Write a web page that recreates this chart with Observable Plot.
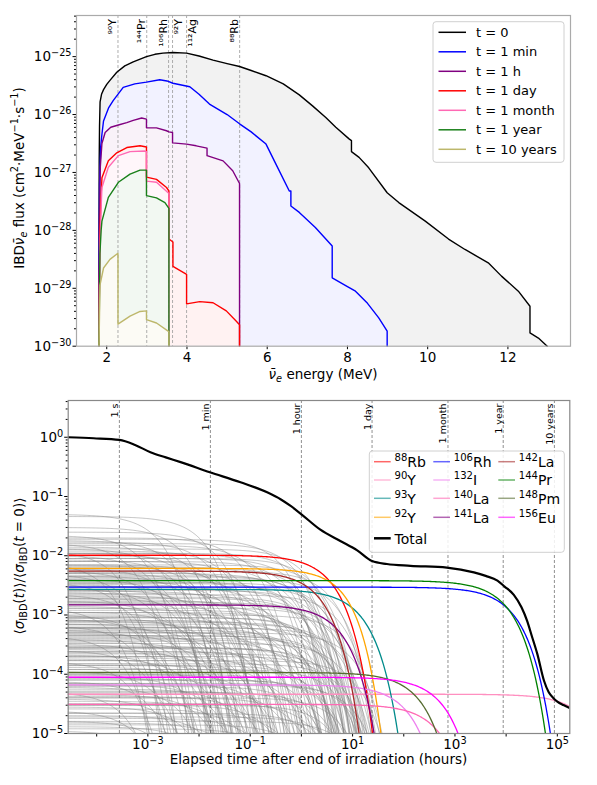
<!DOCTYPE html>
<html><head><meta charset="utf-8">
<script src="https://cdn.jsdelivr.net/npm/d3@7"></script>
<script src="https://cdn.jsdelivr.net/npm/@observablehq/plot@0.6"></script>
<style>
body{margin:0;background:#fff;font-family:"DejaVu Sans",sans-serif;}
svg{display:block;}
</style>
</head><body>
<div id="top"></div>
<div id="bottom"></div>
<script>
// ================= DATA: top panel (energy MeV, log10 flux) =================
const spec_t0 = [[1.806,-30],[1.808,-28],[1.812,-26.8],[1.82,-26.2],[1.834,-25.78],[1.87,-25.65],[1.92,-25.57],[2.0,-25.48],[2.08,-25.41],[2.25,-25.27],[2.45,-25.16],[2.66,-25.09],[2.99,-25.0],[3.2,-24.96],[3.4,-24.94],[3.65,-24.93],[3.99,-24.94],[4.3,-24.99],[4.65,-25.06],[5.0,-25.12],[5.31,-25.17],[5.6,-25.24],[5.97,-25.33],[6.4,-25.47],[6.8,-25.66],[7.13,-25.85],[7.46,-26.05],[7.71,-26.22],[8.04,-26.42],[8.10,-26.45],[8.10,-26.64],[8.29,-26.74],[8.53,-26.92],[8.99,-27.35],[9.28,-27.52],[9.94,-27.84],[10.52,-28.15],[10.93,-28.33],[11.51,-28.56],[11.84,-28.79],[12.26,-29.05],[12.55,-29.31],[12.55,-29.77],[12.76,-29.86],[12.98,-30]];
const spec_1min = [[1.806,-30],[1.81,-28.5],[1.82,-27.2],[1.85,-26.55],[1.88,-26.34],[1.92,-26.11],[2.05,-25.88],[2.16,-25.76],[2.41,-25.53],[2.7,-25.47],[2.99,-25.44],[3.32,-25.40],[3.5,-25.42],[3.65,-25.46],[4.07,-25.52],[4.3,-25.65],[4.56,-25.82],[5.0,-26.0],[5.31,-26.16],[5.6,-26.3],[5.97,-26.51],[6.22,-26.86],[6.55,-27.32],[6.59,-27.32],[6.59,-27.58],[6.80,-27.69],[7.2,-27.95],[7.62,-28.27],[7.62,-28.82],[8.0,-28.97],[8.20,-29.05],[8.5,-29.26],[8.78,-29.51],[8.99,-29.74],[8.99,-30]];
const spec_1h = [[1.806,-30],[1.81,-29],[1.82,-27.8],[1.84,-26.9],[1.88,-26.5],[1.96,-26.31],[2.1,-26.22],[2.29,-26.18],[2.5,-26.14],[2.66,-26.10],[2.87,-26.06],[2.99,-26.08],[2.99,-26.23],[3.24,-26.23],[3.49,-26.28],[3.55,-26.30],[3.64,-26.31],[3.64,-26.49],[3.99,-26.51],[4.23,-26.54],[4.5,-26.58],[4.5,-26.71],[4.9,-26.80],[5.14,-26.97],[5.31,-27.19],[5.31,-30]];
const spec_1day = [[1.806,-30],[1.81,-29.5],[1.83,-28],[1.86,-27.4],[1.88,-27.09],[2.04,-26.80],[2.25,-26.66],[2.5,-26.57],[2.83,-26.54],[2.99,-26.56],[2.99,-27.08],[3.24,-27.12],[3.49,-27.26],[3.55,-27.32],[3.55,-28.15],[3.65,-28.2],[3.65,-28.62],[3.99,-28.76],[3.99,-29.27],[4.32,-29.23],[4.65,-29.25],[4.98,-29.39],[5.23,-29.57],[5.31,-29.63],[5.31,-30]];
const spec_1month = [[1.806,-30],[1.81,-29.5],[1.83,-28.3],[1.86,-27.6],[1.88,-27.26],[2.04,-26.91],[2.29,-26.71],[2.58,-26.64],[2.95,-26.63],[2.99,-26.64],[2.99,-27.15],[3.24,-27.17],[3.53,-27.35],[3.55,-27.36],[3.55,-30]];
const spec_1year = [[1.806,-30],[1.81,-29.7],[1.83,-28.4],[1.86,-28.0],[1.88,-27.84],[2.04,-27.43],[2.29,-27.17],[2.58,-27.03],[2.83,-26.96],[2.99,-26.96],[2.99,-27.40],[3.24,-27.44],[3.45,-27.52],[3.55,-27.62],[3.55,-30]];
const spec_10years = [[1.806,-30],[1.81,-29.9],[1.83,-28.95],[1.92,-28.65],[2.08,-28.50],[2.27,-28.40],[2.28,-28.40],[2.28,-29.62],[2.58,-29.48],[2.83,-29.40],[2.99,-29.39],[2.99,-29.54],[3.24,-29.60],[3.53,-29.74],[3.55,-29.75],[3.55,-30]];

const specLabels = ["t = 0","t = 1 min","t = 1 h","t = 1 day","t = 1 month","t = 1 year","t = 10 years"];
const specColors = ["#000000","#0000ff","#800080","#ff0000","#ff69b4","#1a801a","#bdb76b"];
const specFills  = ["#f2f2f2","#f2f2ff","#f9f2f9","#fff2f2","#fff6fa","#f2f8f2","#fcfbf5"];
const specPoints = [spec_t0, spec_1min, spec_1h, spec_1day, spec_1month, spec_1year, spec_10years];

const endpointE = [2.28, 2.997, 3.541, 3.64, 3.99, 5.313];
const endpointLabel = ["⁹⁰Y","¹⁴⁴Pr","¹⁰⁶Rh","⁹²Y","¹¹²Ag","⁸⁸Rb"];
const endpointRightSide = [false, false, false, true, true, false];

// ================= DATA: bottom panel =================
// named isotopes: own amplitude at t=0, own half-life (h), parent-fed amplitude, parent half-life (h)
const isoMass = [88,90,93,92,106,132,140,141,142,144,148,156];
const isoSym  = ["Rb","Y","Y","Y","Rh","I","La","La","La","Pr","Pm","Eu"];
const isoAmp  = [0.0102,4.6e-5,0.0027,0.0061,0.00295,6.6e-5,3.1e-5,0.00148,0.0055,0.0038,1.07e-4,8.9e-5];
const isoHalfLifeH = [2.45,252460,9.5,3.54,8923,76.9,306,3.65,1.47,6838,128.9,364.6];
const isoParentAmp = [0,0,0,0.0019,0,0,0,0,0,0,0,0];
const isoParentHalfLifeH = [1,1,1,2.61,1,1,1,1,1,1,1,1];
const isoColor = ["#ff0000","#ff8fc0","#008b8b","#ffa500","#0000ff","#ee82ee","#ff69b4","#800080","#a52a2a","#008000","#556b2f","#ff00ff"];

// other fission products (grey): [amplitude, half-life in seconds]
const greyIsotopes = [
 [0.050,4],[0.046,30],[0.030,12],[0.025,60],[0.022,2],[0.020,150],[0.018,8],[0.017,40],[0.016,1.2],[0.015,300],
 [0.014,20],[0.013,5],[0.012,90],[0.012,0.6],[0.011,600],[0.011,15],[0.010,3],[0.010,45],
 [0.019,1000],[0.016,1800],[0.013,3000],[0.011,2400],[0.009,4200],[0.008,1300],[0.007,5500],[0.0062,2600],
 [0.0055,9000],[0.005,1600],[0.0044,3600],[0.004,11000],[0.0034,2000],[0.003,7000],[0.0026,4800],[0.0022,13000],
 [0.0019,3200],[0.0017,1200],[0.0015,6200],[0.0013,9800],[0.0011,2700],[0.001,18000],[0.0009,4000],[0.0008,1900],
 [0.0007,11000],[0.00062,6000],[0.00055,2500],[0.0005,24000],[0.00044,8000],[0.00038,3000],[0.00033,15000],
 [0.00028,5200],[0.00024,1800],[0.0002,9500],[0.00017,30000],[0.00014,4200],[0.00012,12000],[0.0001,2400],
 [8e-5,7000],[6.5e-5,26000],[5e-5,3800],[4e-5,14000],[3e-5,9000],[2.2e-5,5000],[1.6e-5,20000],
 [0.009,1800],[0.0085,10],[0.008,200],[0.0075,0.4],[0.007,70],[0.0068,25],[0.0065,900],[0.006,6],[0.0058,120],
 [0.0055,2.5],[0.0052,400],[0.005,35],[0.0048,1],[0.0046,3000],[0.0045,18],[0.0042,250],[0.004,7],[0.0038,55],
 [0.0036,1500],[0.0035,0.8],[0.0035,6000],[0.0033,100],[0.0032,14],[0.003,500],[0.0028,3.5],[0.0027,2400],[0.0026,28],
 [0.0025,180],[0.0024,9],[0.0023,700],[0.0022,1.5],[0.0021,65],[0.002,4000],[0.0019,22],[0.0018,350],[0.0017,5.5],
 [0.0016,130],[0.0016,8500],[0.0015,1100],[0.0014,11],[0.0013,0.5],[0.0013,80],[0.0012,2000],[0.0011,16],[0.0011,450],[0.001,2],
 [0.00095,160],[0.0009,5000],[0.00088,24],[0.00085,3],[0.0008,800],[0.00078,50],[0.00075,7000],[0.0007,10],
 [0.00068,280],[0.00065,1.3],[0.00062,1300],[0.0006,33],[0.0006,14000],[0.00058,110],[0.00055,4.5],[0.00052,600],
 [0.0005,2800],[0.00048,19],[0.00046,75],[0.00045,4500],[0.00044,0.7],[0.00042,230],[0.0004,9000],[0.00038,13],
 [0.00036,1600],[0.00034,42],[0.00032,6],[0.0003,380],[0.00029,140],[0.00028,3500],[0.00027,7500],[0.00026,27],
 [0.00025,2.2],[0.00024,950],[0.00023,60],[0.00022,12000],[0.00021,8],[0.0002,500],[0.00019,200],[0.00018,17],
 [0.00017,2200],[0.00016,1.1],[0.00015,90],[0.00015,16000],[0.00014,700],[0.00013,36],[0.00012,5500],[0.00011,4],[0.0001,300],
 [9.5e-5,1400],[9e-5,21],[8.5e-5,160],[8e-5,8000],[7.5e-5,2.8],[7e-5,450],[7e-5,20000],[6.6e-5,48],[6.2e-5,2600],
 [6e-5,11],[5.6e-5,120],[5.2e-5,900],[5e-5,0.9],[4.8e-5,6500],[4.5e-5,30],[4.2e-5,260],[4e-5,1800],[3.8e-5,7],
 [3.5e-5,70],[3.2e-5,4000],[3e-5,600],[2.8e-5,15],[2.6e-5,180],[2.4e-5,1.6],[2.2e-5,1100],[2e-5,40],[1.9e-5,10000],
 [1.8e-5,350],[1.6e-5,5],[1.5e-5,95],[1.4e-5,2300],[1.3e-5,25],[1.2e-5,700],[1.1e-5,3]
];

// total curve: log10(hours), log10(ratio)
const totalLogT = [-4.556,-4.06,-3.556,-3.25,-2.95,-2.65,-2.36,-1.79,-1.19,-0.67,-0.40,-0.21,0.0,0.37,0.76,1.09,1.38,1.67,2.13,2.84,3.37,3.60,3.83,3.97,4.15,4.30,4.41,4.50,4.61,4.74,4.83,4.92,5.0,5.12,5.24];
const totalLogR = [0.0,-0.017,-0.045,-0.13,-0.253,-0.34,-0.42,-0.59,-0.76,-0.93,-1.05,-1.16,-1.30,-1.56,-1.75,-1.91,-2.09,-2.14,-2.17,-2.20,-2.28,-2.34,-2.42,-2.52,-2.66,-2.87,-3.10,-3.35,-3.66,-4.11,-4.30,-4.40,-4.46,-4.52,-4.57];

const timeMarkH = [1/3600, 1/60, 1, 24, 730.5, 8766, 87660];
const timeMarkLabel = ["1 s","1 min","1 hour","1 day","1 month","1 year","10 years"];

// ================= helpers =================
const FONT = "DejaVu Sans";
function supify(svg) {
  d3.select(svg).selectAll('g[aria-label$="tick label"] text').each(function() {
    const s = this.textContent;
    const m = s.match(/^10\^(.+)$/);
    if (m) {
      const sel = d3.select(this);
      sel.text("");
      sel.append("tspan").text("10");
      sel.append("tspan").attr("dy", "-0.5em").attr("font-size", "0.72em").text(m[1]);
    }
  });
}
function rich(textSel, parts, fs) {
  let shift = 0;
  for (const p of parts) {
    const ts = textSel.append("tspan").text(p.t);
    const target = p.sup ? -0.42 * fs : p.sub ? 0.25 * fs : 0;
    if (target !== shift) { ts.attr("dy", target - shift); shift = target; }
    if (p.sup || p.sub) ts.attr("font-size", 0.72 * fs);
    if (p.it) ts.attr("font-style", "italic");
  }
}
const expFmt = e => e < 0 ? "10^−" + (-e) : "10^" + e;

// ================= TOP PLOT =================
const series = specPoints.map((pts, i) => ({
  label: specLabels[i], color: specColors[i], fill: specFills[i],
  rows: pts.map(([E, l]) => ({E, F: Math.pow(10, l)}))
}));
const yTopMax = Math.pow(10, -24.29);
const topMajor = d3.range(-30, -24).map(e => Math.pow(10, e));
const topMinor = [];
for (let e = -30; e < -24; e++) for (let k = 2; k <= 9; k++) { const v = k * Math.pow(10, e); if (v < yTopMax) topMinor.push(v); }
const endpoints = endpointE.map((E, i) => ({E, label: endpointLabel[i], right: endpointRightSide[i]}));

const topPlot = Plot.plot({
  width: 597, height: 390,
  marginLeft: 76, marginRight: 27, marginTop: 15, marginBottom: 44.3,
  style: {fontFamily: FONT, fontSize: "13.5px", background: "white", color: "black"},
  x: {domain: [1.246, 13.56]},
  y: {type: "log", domain: [1e-30, yTopMax]},
  marks: [
    ...series.map(s => Plot.areaY(s.rows, {x: "E", y1: 1e-30, y2: "F", fill: s.fill})),
    Plot.ruleX(endpoints, {x: "E", stroke: "#999", strokeWidth: 0.8, strokeDasharray: "3,2"}),
    ...series.map(s => Plot.line(s.rows, {x: "E", y: "F", stroke: s.color, strokeWidth: 1.4})),
    Plot.text(endpoints.filter(d => !d.right), {x: "E", y: yTopMax, text: "label", rotate: -90, textAnchor: "end", lineAnchor: "bottom", dx: -1.5, dy: 3.5, fontSize: 11}),
    Plot.text(endpoints.filter(d => d.right), {x: "E", y: yTopMax, text: "label", rotate: -90, textAnchor: "end", lineAnchor: "top", dx: 1.5, dy: 3.5, fontSize: 11}),
    Plot.axisX({ticks: [2,4,6,8,10,12], tickSize: 3.5, tickPadding: 3, label: null, tickFormat: d => String(d)}),
    Plot.axisY({ticks: topMajor, tickSize: 3.5, tickPadding: 1.5, label: null, tickFormat: d => expFmt(Math.round(Math.log10(d)))}),
    Plot.axisY({ticks: topMinor, tickSize: 2, label: null, tickFormat: () => ""}),
    Plot.frame({stroke: "#aaaaaa", strokeWidth: 1.2})
  ]
});
supify(topPlot);
{
  const g = d3.select(topPlot).append("g").attr("font-family", FONT).attr("fill", "black").attr("text-anchor", "start");
  const xl = g.append("text").attr("x", 323).attr("y", 379).attr("text-anchor", "middle").attr("font-size", 13.5);
  rich(xl, [{t: "ν̄", it: true}, {t: "e", sub: true, it: true}, {t: " energy (MeV)"}], 13.5);
  const yl = g.append("text").attr("transform", "translate(24,178) rotate(-90)").attr("text-anchor", "middle").attr("font-size", 13.5);
  rich(yl, [{t: "IBD"}, {t: "ν̄", it: true}, {t: "e", sub: true, it: true}, {t: " flux (cm"}, {t: "2", sup: true}, {t: "·MeV"}, {t: "−1", sup: true}, {t: "·s"}, {t: "−1", sup: true}, {t: ")"}], 13.5);
  // legend
  g.append("rect").attr("x", 433).attr("y", 21.7).attr("width", 131).attr("height", 140.6).attr("rx", 3)
    .attr("fill", "white").attr("fill-opacity", 0.85).attr("stroke", "#d0d0d0");
  series.forEach((s, i) => {
    const y = 32.3 + i * 19.5;
    g.append("line").attr("x1", 438.5).attr("x2", 466).attr("y1", y).attr("y2", y).attr("stroke", s.color).attr("stroke-width", 1.5);
    g.append("text").attr("x", 476).attr("y", y + 4.6).attr("font-size", 13).attr("text-anchor", "start").text(s.label);
  });
}
document.getElementById("top").appendChild(topPlot);

// ================= BOTTOM PLOT =================
const tMin = 1 / 36000, tMax = 175320;
const logGrid = d3.range(-4.6, 5.3, 0.025);
function decayRows(id, A, Th, B = 0, Tp = 1) {
  const rows = [];
  const l = Math.LN2 / Th, lp = Math.LN2 / Tp;
  for (const lt of logGrid) {
    const t = Math.pow(10, lt);
    let v = A * Math.exp(-l * t);
    if (B) v += B * l / (l - lp) * (Math.exp(-lp * t) - Math.exp(-l * t));
    rows.push({id, t, v: Math.max(v, 1e-7)});
    if (v < 1e-6) break;
  }
  return rows;
}
const greyRows = greyIsotopes.flatMap(([A, Ts], i) => decayRows(i, A, Ts / 3600));
const named = isoMass.map((m, i) => ({
  mass: m, sym: isoSym[i], color: isoColor[i],
  rows: decayRows(i, isoAmp[i], isoHalfLifeH[i], isoParentAmp[i], isoParentHalfLifeH[i])
}));
const totalRows = totalLogT.map((lt, i) => ({t: Math.pow(10, lt), v: Math.pow(10, totalLogR[i])}));
const timeMarks = timeMarkH.map((h, i) => ({h, label: timeMarkLabel[i]}));
const yBotMax = Math.pow(10, 0.62);
const botMajor = d3.range(-5, 1).map(e => Math.pow(10, e));
const botMinor = [];
for (let e = -5; e <= 0; e++) for (let k = 2; k <= 9; k++) { const v = k * Math.pow(10, e); if (v < yBotMax) botMinor.push(v); }
const xLab = [-3, -1, 1, 3, 5].map(e => Math.pow(10, e));
const xUnl = [-4, -2, 0, 2, 4].map(e => Math.pow(10, e));

const botPlot = Plot.plot({
  width: 597, height: 395,
  marginLeft: 67.7, marginRight: 27.7, marginTop: 10, marginBottom: 52,
  style: {fontFamily: FONT, fontSize: "13.5px", background: "white", color: "black"},
  x: {type: "log", domain: [tMin, tMax]},
  y: {type: "log", domain: [1e-5, yBotMax]},
  marks: [
    Plot.line(greyRows, {x: "t", y: "v", z: "id", stroke: "#808080", strokeOpacity: 0.6, strokeWidth: 0.75, clip: true}),
    Plot.ruleX(timeMarks, {x: "h", stroke: "#444", strokeOpacity: 0.75, strokeWidth: 0.8, strokeDasharray: "3,2"}),
    ...named.map(n => Plot.line(n.rows, {x: "t", y: "v", stroke: n.color, strokeWidth: 1.3, clip: true})),
    Plot.line(totalRows, {x: "t", y: "v", stroke: "black", strokeWidth: 2.2, curve: "monotone-x", clip: true}),
    Plot.text(timeMarks, {x: "h", y: yBotMax, text: "label", rotate: -90, textAnchor: "end", lineAnchor: "bottom", dx: -1.5, dy: 3, fontSize: 9.5}),
    Plot.axisX({ticks: xLab, tickSize: 3.5, tickPadding: 2, label: null, tickFormat: d => expFmt(Math.round(Math.log10(d)))}),
    Plot.axisX({ticks: xUnl, tickSize: 3.5, label: null, tickFormat: () => ""}),
    Plot.axisY({ticks: botMajor, tickSize: 3.5, tickPadding: 1.5, label: null, tickFormat: d => expFmt(Math.round(Math.log10(d)))}),
    Plot.axisY({ticks: botMinor, tickSize: 2, label: null, tickFormat: () => ""}),
    Plot.frame({stroke: "#888888", strokeWidth: 1.2})
  ]
});
supify(botPlot);
{
  const g = d3.select(botPlot).append("g").attr("font-family", FONT).attr("fill", "black").attr("text-anchor", "start");
  g.append("text").attr("x", 318.5).attr("y", 374).attr("text-anchor", "middle").attr("font-size", 13.5)
    .text("Elapsed time after end of irradiation (hours)");
  const yl = g.append("text").attr("transform", "translate(24,176) rotate(-90)").attr("text-anchor", "middle").attr("font-size", 13.5);
  rich(yl, [{t: "⟨"}, {t: "σ", it: true}, {t: "IBD", sub: true}, {t: "("}, {t: "t", it: true}, {t: ")⟩/⟨"}, {t: "σ", it: true}, {t: "IBD", sub: true}, {t: "("}, {t: "t", it: true}, {t: " = 0)⟩"}], 13.5);
  // legend (bottom svg starts at page y=390)
  const oy = -390;
  g.append("rect").attr("x", 369.3).attr("y", 451 + oy).attr("width", 195).attr("height", 101.3).attr("rx", 3)
    .attr("fill", "white").attr("fill-opacity", 0.85).attr("stroke", "#d0d0d0");
  const colX = [374, 433.3, 498.3], rowY = [461.7, 480, 498.3, 517.3];
  const placement = [[0,0],[0,1],[0,2],[0,3],[1,0],[1,1],[1,2],[1,3],[2,0],[2,1],[2,2],[2,3]];
  named.forEach((n, i) => {
    const [c, r] = placement[i];
    const x = colX[c], y = rowY[r] + oy;
    g.append("line").attr("x1", x).attr("x2", x + 16.7).attr("y1", y).attr("y2", y).attr("stroke", n.color).attr("stroke-opacity", 0.6).attr("stroke-width", 1.5);
    const t = g.append("text").attr("x", x + 20.5).attr("y", y + 5.2).attr("font-size", 14).attr("text-anchor", "start");
    rich(t, [{t: String(n.mass), sup: true}, {t: n.sym}], 14);
  });
  const ty = 538.3 + oy;
  g.append("line").attr("x1", 374).attr("x2", 390.7).attr("y1", ty).attr("y2", ty).attr("stroke", "black").attr("stroke-width", 2.5);
  g.append("text").attr("x", 394.5).attr("y", ty + 5.2).attr("font-size", 14).attr("text-anchor", "start").text("Total");
}
document.getElementById("bottom").appendChild(botPlot);
</script>
</body></html>
